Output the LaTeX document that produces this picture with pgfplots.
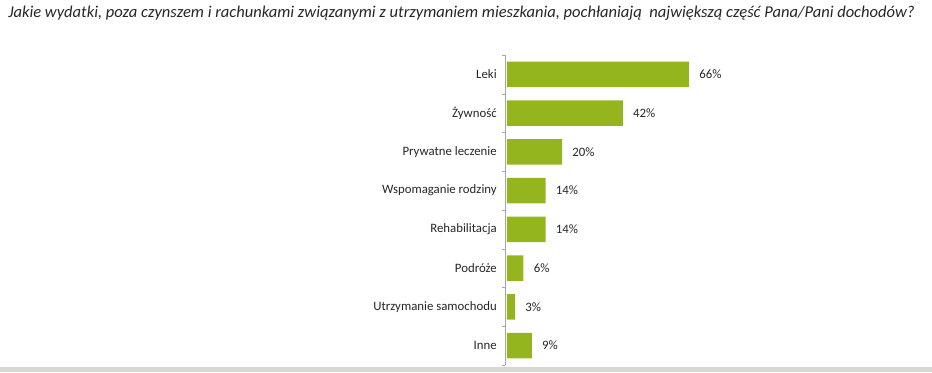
\documentclass[border=0pt]{standalone}
\usepackage{fontspec}
\setmainfont{Carlito}
\usepackage{pgfplots}
\pgfplotsset{compat=1.18}
\definecolor{barg}{HTML}{95B51F}
\definecolor{txt}{HTML}{262626}
\definecolor{axg}{HTML}{A6A6A6}
\definecolor{band}{HTML}{D9D6D0}
\begin{document}
\begin{tikzpicture}[x=1pt,y=1pt]
\useasboundingbox (0,0) rectangle (699,279);
\fill[band] (0,0) rectangle (699,3.75);
\node[anchor=base west, inner sep=0pt, font=\fontsize{12.4}{14}\selectfont\itshape, text=txt] at (6,265.5) {Jakie wydatki, poza czynszem i rachunkami związanymi z utrzymaniem mieszkania, pochłaniają\ \ największą część Pana/Pani dochodów?};
\begin{axis}[
  at={(378.75pt,5.25pt)}, anchor=south west,
  scale only axis, width=207pt, height=232.5pt,
  xmin=-0.7, xmax=99.3, ymin=0.5, ymax=8.5,
  y dir=reverse,
  axis x line=none,
  axis y line*=left,
  y axis line style={draw=axg, -},
  xtick=\empty,
  ytick={1,...,8},
  yticklabels={Leki,Żywność,Prywatne leczenie,Wspomaganie rodziny,Rehabilitacja,Podróże,Utrzymanie samochodu,Inne},
  minor ytick={0.5,1.5,...,8.5},
  major tick length=0pt, minor tick length=2.25pt,
  ytick align=outside, ytick pos=left,
  tick style={draw=axg},
  /pgf/number format/assume math mode=true,
  yticklabel style={font=\fontsize{9.6}{12}\selectfont, text=txt, inner sep=0pt, xshift=-6pt},
  xbar, bar width=19pt,
  nodes near coords={\pgfmathprintnumber{\pgfplotspointmeta}\%},
  every node near coord/.append style={font=\fontsize{9.6}{12}\selectfont, text=txt, anchor=west, inner sep=0pt, xshift=7.5pt},
  clip=false,
]
\addplot[fill=barg, draw=none] coordinates {(66,1) (42,2) (20,3) (14,4) (14,5) (6,6) (3,7) (9,8)};
\end{axis}
\end{tikzpicture}
\end{document}
